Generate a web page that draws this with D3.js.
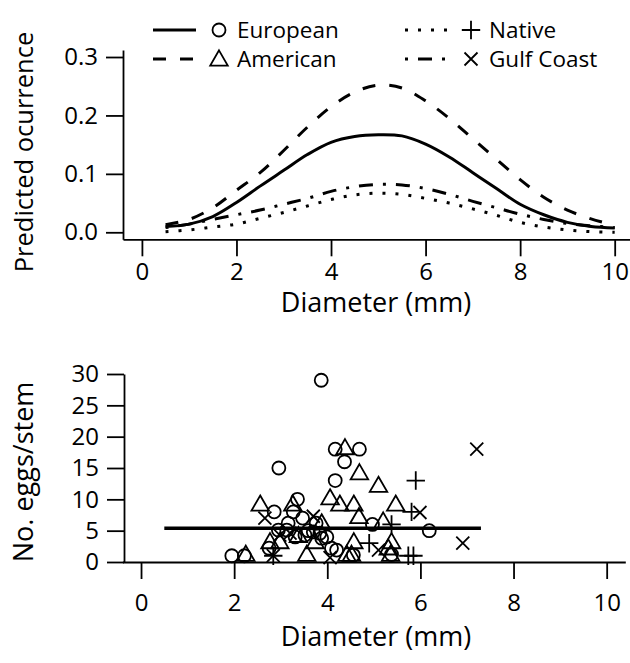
<!DOCTYPE html>
<html>
<head>
<meta charset="utf-8">
<script src="https://cdn.jsdelivr.net/npm/d3@7"></script>
<style>
  html, body { margin: 0; padding: 0; background: #fff; }
  text { font-family: "Open Sans", sans-serif; fill: #000; }
</style>
</head>
<body>
<svg id="chart" width="630" height="663"></svg>
<script>
// ---- Predicted occurrence curves (upper panel) ----
const diameterGrid = [0.5, 1, 1.5, 2, 2.5, 3, 3.5, 4, 4.5, 5, 5.5, 6, 6.5, 7, 7.5, 8, 8.5, 9, 9.5, 10];
const predEuropean = [0.010, 0.014, 0.027, 0.051, 0.079, 0.106, 0.133, 0.154, 0.164, 0.167, 0.165, 0.151, 0.129, 0.102, 0.075, 0.048, 0.030, 0.017, 0.010, 0.0075];
const predAmerican = [0.013, 0.022, 0.042, 0.072, 0.102, 0.140, 0.180, 0.215, 0.240, 0.252, 0.247, 0.225, 0.195, 0.160, 0.125, 0.090, 0.060, 0.038, 0.023, 0.012];
const predNative   = [0.001, 0.004, 0.009, 0.014, 0.024, 0.034, 0.045, 0.056, 0.064, 0.067, 0.065, 0.058, 0.050, 0.040, 0.029, 0.017, 0.009, 0.004, 0.001, 0.000];
const predGulf     = [0.008, 0.014, 0.022, 0.030, 0.038, 0.048, 0.058, 0.070, 0.078, 0.082, 0.081, 0.075, 0.065, 0.053, 0.042, 0.031, 0.022, 0.015, 0.011, 0.008];

// ---- Egg counts per stem (lower panel) ----
const europeanDiam = [3.87, 4.17, 4.69, 4.37, 2.96, 4.17, 3.36, 2.86, 3.27, 3.47, 3.16, 3.76, 4.97, 2.95, 3.59, 3.70, 3.84, 3.52, 3.88, 3.99, 3.13, 3.31, 2.75, 1.95, 2.22, 4.09, 4.20, 4.56, 5.38, 6.19];
const europeanEggs = [29, 18, 18, 16, 15, 13, 10, 8, 8, 7, 6.2, 6.2, 6, 5.1, 5, 4.8, 4.6, 4.3, 3.8, 4, 5.1, 4, 2.2, 1, 1, 2.2, 1.9, 1.1, 1.2, 5];
const americanDiam = [4.38, 4.69, 5.10, 2.56, 3.26, 4.06, 4.27, 4.57, 5.47, 4.68, 3.88, 5.20, 2.77, 2.98, 2.25, 3.56, 4.42, 4.57, 5.31, 5.38, 5.36, 3.38, 3.74, 4.52];
const americanEggs = [18, 14, 12, 9, 9, 10, 9, 9, 9, 7, 6, 6.3, 3, 3, 1, 1, 1, 3, 2, 3, 1, 4, 3, 1];
const nativeDiam   = [2.84, 4.90, 5.38, 5.81, 5.90, 5.74, 5.85];
const nativeEggs   = [1, 3, 6, 8, 13, 1, 1];
const gulfDiam     = [2.66, 2.84, 3.70, 4.06, 5.10, 5.99, 6.91, 7.21, 3.20, 2.98];
const gulfEggs     = [7, 1, 7.3, 0.7, 1.9, 7.9, 3, 18, 4.6, 4.3];

// Fitted mean line over the observed diameter range
const meanLineDiam = [0.5, 7.3];
const meanLineEggs = [5.4, 5.4];

// ---- Axis ticks and labels ----
const xTicks = [0, 2, 4, 6, 8, 10];
const topYTicks = [0, 0.1, 0.2, 0.3];
const bottomYTicks = [0, 5, 10, 15, 20, 25, 30];
const legendLabels = ["European", "American", "Native", "Gulf Coast"];

const svg = d3.select("#chart");
const ink = "#000";

// ---- Scales ----
const xTop = d3.scaleLinear().domain([-0.4, 10.4]).range([123, 633.6]);
const yTop = d3.scaleLinear().domain([-0.012, 0.312]).range([239.3, 50]);
const xBot = d3.scaleLinear().domain([-0.4, 10.4]).range([122.4, 625.3]);
const yBot = d3.scaleLinear().domain([0, 30]).range([562, 374]);

const TICK = 17;

function styleAxis(g, fontSize) {
  g.select(".domain").attr("stroke", ink).attr("stroke-width", 1.8);
  g.selectAll(".tick line").attr("stroke", ink).attr("stroke-width", 1.8);
  g.selectAll(".tick text").attr("fill", ink)
    .style("font-family", '"Open Sans", sans-serif')
    .style("font-size", fontSize + "px");
}

// ---- Upper panel axes ----
svg.append("g").attr("transform", "translate(0,239.3)")
  .call(d3.axisBottom(xTop).tickValues(xTicks).tickSize(TICK).tickSizeOuter(0).tickPadding(7).tickFormat(d3.format("d")))
  .call(g => styleAxis(g, 24));
svg.append("g").attr("transform", "translate(123,0)")
  .call(d3.axisLeft(yTop).tickValues(topYTicks).tickSize(TICK).tickSizeOuter(0).tickPadding(8).tickFormat(d3.format(".1f")))
  .call(g => styleAxis(g, 24));

// ---- Lower panel axes ----
svg.append("g").attr("transform", "translate(0,562)")
  .call(d3.axisBottom(xBot).tickValues(xTicks).tickSize(TICK).tickSizeOuter(0).tickPadding(15).tickFormat(d3.format("d")))
  .call(g => styleAxis(g, 24));
svg.append("g").attr("transform", "translate(124,0)")
  .call(d3.axisLeft(yBot).tickValues(bottomYTicks).tickSize(TICK).tickSizeOuter(0).tickPadding(8).tickFormat(d3.format("d")))
  .call(g => styleAxis(g, 24));

// ---- Axis titles ----
svg.append("text").attr("x", 376).attr("y", 312).attr("text-anchor", "middle")
  .style("font-size", "27px").text("Diameter (mm)");
svg.append("text").attr("x", 376).attr("y", 646).attr("text-anchor", "middle")
  .style("font-size", "27px").text("Diameter (mm)");
svg.append("text").attr("transform", "translate(33,152) rotate(-90)").attr("text-anchor", "middle")
  .style("font-size", "25.5px").text("Predicted ocurrence");
svg.append("text").attr("transform", "translate(33,472) rotate(-90)").attr("text-anchor", "middle")
  .style("font-size", "27px").text("No. eggs/stem");

// ---- Line styles ----
const styles = {
  European: { dash: null },
  American: { dash: "13,14" },
  Native: { dash: "3,10" },
  Gulf: { dash: "3,10,14,10" }
};

const curveLine = d3.line()
  .x(d => xTop(d[0])).y(d => yTop(d[1]))
  .curve(d3.curveCatmullRom.alpha(0.5));

const curves = [
  { vals: predNative, dash: styles.Native.dash },
  { vals: predGulf, dash: styles.Gulf.dash },
  { vals: predEuropean, dash: styles.European.dash },
  { vals: predAmerican, dash: styles.American.dash }
];
curves.forEach(c => {
  svg.append("path")
    .datum(d3.zip(diameterGrid, c.vals))
    .attr("d", curveLine)
    .attr("fill", "none")
    .attr("stroke", ink)
    .attr("stroke-width", 3)
    .attr("stroke-dasharray", c.dash);
});

// ---- Point symbols (size S = circle radius) ----
const S = 6.5;
const symbolPath = {
  circle: (x, y) => { const p = d3.path(); p.moveTo(x + S, y); p.arc(x, y, S, 0, 2 * Math.PI); return p.toString(); },
  triangle: (x, y) => {
    const r = 1.555 * S, hw = 1.347 * S, yc = 0.778 * S;
    const p = d3.path(); p.moveTo(x, y - r); p.lineTo(x + hw, y + yc); p.lineTo(x - hw, y + yc); p.closePath(); return p.toString();
  },
  plus: (x, y) => {
    const a = Math.SQRT2 * S;
    const p = d3.path(); p.moveTo(x - a, y); p.lineTo(x + a, y); p.moveTo(x, y - a); p.lineTo(x, y + a); return p.toString();
  },
  cross: (x, y) => {
    const a = S;
    const p = d3.path(); p.moveTo(x - a, y - a); p.lineTo(x + a, y + a); p.moveTo(x - a, y + a); p.lineTo(x + a, y - a); return p.toString();
  }
};

function drawPoints(xs, ys, shape) {
  svg.append("g").selectAll("path")
    .data(d3.zip(xs, ys))
    .join("path")
    .attr("d", d => symbolPath[shape](xBot(d[0]), yBot(d[1])))
    .attr("fill", "none")
    .attr("stroke", ink)
    .attr("stroke-width", 1.8);
}
drawPoints(europeanDiam, europeanEggs, "circle");
drawPoints(americanDiam, americanEggs, "triangle");
drawPoints(nativeDiam, nativeEggs, "plus");
drawPoints(gulfDiam, gulfEggs, "cross");

// Mean line
svg.append("path")
  .datum(d3.zip(meanLineDiam, meanLineEggs))
  .attr("d", d3.line().x(d => xBot(d[0])).y(d => yBot(d[1])))
  .attr("fill", "none").attr("stroke", ink).attr("stroke-width", 3.5);

// ---- Legend ----
const legendItems = [
  { label: legendLabels[0], dash: styles.European.dash, shape: "circle", lx: 153, y: 30 },
  { label: legendLabels[1], dash: styles.American.dash, shape: "triangle", lx: 153, y: 59 },
  { label: legendLabels[2], dash: styles.Native.dash, shape: "plus", lx: 405, y: 30 },
  { label: legendLabels[3], dash: styles.Gulf.dash, shape: "cross", lx: 405, y: 59 }
];
const lg = svg.append("g");
legendItems.forEach(it => {
  lg.append("line").attr("x1", it.lx).attr("x2", it.lx + 43).attr("y1", it.y).attr("y2", it.y)
    .attr("stroke", ink).attr("stroke-width", 3).attr("stroke-dasharray", it.dash);
  const mx = it.lx + 66;
  lg.append("path").attr("d", symbolPath[it.shape](mx, it.y + (it.shape === "triangle" ? 1.5 : 0)))
    .attr("fill", "none").attr("stroke", ink).attr("stroke-width", 1.8);
  lg.append("text").attr("x", it.lx + 84).attr("y", it.y + 8).style("font-size", "22.5px").text(it.label);
});
</script>
</body>
</html>
